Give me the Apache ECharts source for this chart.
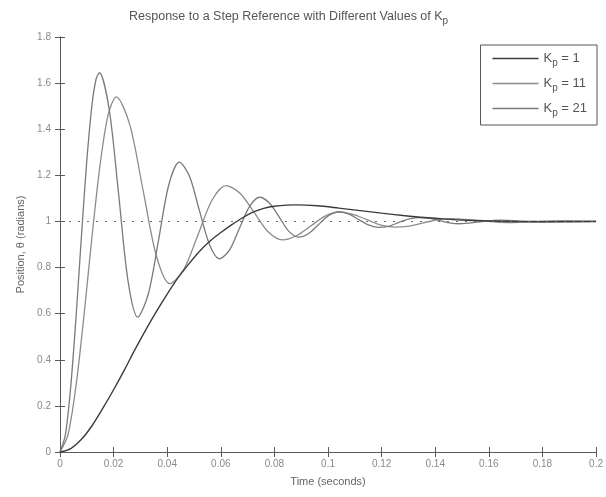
<!DOCTYPE html>
<html>
<head>
<meta charset="utf-8">
<script src="https://cdn.jsdelivr.net/npm/echarts@6/dist/echarts.min.js"></script>
<style>
  html, body { margin: 0; padding: 0; background: #fff; }
  #chart { width: 606px; height: 497px; }
</style>
</head>
<body>
<div id="chart"></div>
<script>
// Step responses of the position loop for three proportional gains.
const seriesNames = ['Kp = 1', 'Kp = 11', 'Kp = 21'];

// Kp = 1 : slow, lightly overshooting response
const tKp1 = [0, 0.004, 0.008, 0.012, 0.016, 0.02, 0.024, 0.028, 0.032, 0.036, 0.04, 0.044, 0.048, 0.052, 0.056, 0.06, 0.064, 0.068, 0.072, 0.076, 0.08, 0.088, 0.096, 0.104, 0.112, 0.12, 0.128, 0.136, 0.144, 0.152, 0.16, 0.17, 0.18, 0.2];
const yKp1 = [0, 0.015, 0.055, 0.115, 0.19, 0.27, 0.355, 0.445, 0.53, 0.61, 0.685, 0.755, 0.815, 0.87, 0.915, 0.952, 0.985, 1.015, 1.04, 1.057, 1.066, 1.072, 1.068, 1.058, 1.047, 1.036, 1.026, 1.017, 1.01, 1.005, 1.002, 1.0, 1.0, 1.0];

// Kp = 11
const tKp11 = [0, 0.003, 0.006, 0.009, 0.012, 0.015, 0.018, 0.021, 0.026, 0.031, 0.036, 0.041, 0.04625, 0.0515, 0.05675, 0.062, 0.06725, 0.0725, 0.07775, 0.083, 0.08825, 0.0935, 0.09875, 0.104, 0.10925, 0.1145, 0.11975, 0.125, 0.13025, 0.1355, 0.14075, 0.146, 0.1565, 0.167, 0.188, 0.2];
const yKp11 = [0, 0.076, 0.29, 0.598, 0.941, 1.25, 1.464, 1.54, 1.421, 1.135, 0.849, 0.73, 0.793, 0.9425, 1.093, 1.155, 1.121, 1.038, 0.954, 0.92, 0.938, 0.98, 1.022, 1.04, 1.031, 1.008, 0.984, 0.975, 0.98, 0.994, 1.007, 1.012, 1.003, 0.995, 1.002, 1.0];

// Kp = 21
const tKp21 = [0, 0.002, 0.004, 0.006, 0.008, 0.010, 0.012, 0.0135, 0.0147, 0.0183, 0.0219, 0.0254, 0.029, 0.0329, 0.0368, 0.0406, 0.0445, 0.0483, 0.052, 0.0558, 0.0595, 0.0633, 0.067, 0.0708, 0.0745, 0.0781, 0.0818, 0.0854, 0.089, 0.0928, 0.0965, 0.1003, 0.104, 0.1078, 0.1115, 0.1153, 0.119, 0.1228, 0.1265, 0.1303, 0.134, 0.1378, 0.1415, 0.1453, 0.149, 0.1565, 0.164, 0.179, 0.2];
const yKp21 = [0, 0.074, 0.283, 0.588, 0.937, 1.264, 1.512, 1.619, 1.645, 1.49, 1.115, 0.74, 0.585, 0.683, 0.921, 1.159, 1.257, 1.196, 1.048, 0.899, 0.838, 0.877, 0.972, 1.066, 1.105, 1.08, 1.019, 0.957, 0.932, 0.948, 0.987, 1.026, 1.042, 1.032, 1.008, 0.984, 0.974, 0.98, 0.996, 1.011, 1.017, 1.013, 1.004, 0.994, 0.99, 0.998, 1.006, 0.997, 1.0];

const referenceLevel = 1;

const pairs = (t, y) => t.map((v, i) => [v, y[i]]);

const font = '"Liberation Sans", Arial, Helvetica, sans-serif';
const axisColor = '#5a5a5a';
const labelColor = '#8a8a8a';
const lineColors = ['#3c3c3c', '#8c8c8c', '#7a7a7a'];

const chart = echarts.init(document.getElementById('chart'), null, { renderer: 'canvas' });

const axisCommon = {
  type: 'value',
  axisLine: { show: true, lineStyle: { color: axisColor, width: 1 } },
  axisTick: { show: true, inside: true, length: 5, lineStyle: { color: axisColor } },
  splitLine: { show: false }
};

chart.setOption({
  animation: false,
  backgroundColor: '#ffffff',
  title: {
    text: 'Response to a Step Reference with Different Values of K{sub|p}',
    left: 124,
    top: 2,
    textStyle: {
      fontFamily: font, fontSize: 12.5, fontWeight: 'normal', color: '#555',
      rich: { sub: { fontFamily: font, fontSize: 10, color: '#555', padding: [9, 0, 0, 0] } }
    }
  },
  legend: {
    orient: 'vertical',
    right: 9,
    top: 45,
    padding: [7, 10, 7, 12],
    icon: 'rect',
    itemWidth: 46,
    itemHeight: 1.5,
    itemGap: 9,
    borderColor: '#555',
    borderWidth: 1,
    backgroundColor: '#fff',
    formatter: n => n.replace('Kp', 'K{sub|p}'),
    textStyle: {
      fontFamily: font, fontSize: 13, color: '#555',
      rich: { sub: { fontFamily: font, fontSize: 10, color: '#555', padding: [9, 0, 0, 0] } }
    },
    data: seriesNames
  },
  grid: { left: 60, right: 3, top: 37, bottom: 45, containLabel: false },
  xAxis: [
    Object.assign({}, axisCommon, {
      min: 0, max: 0.2, interval: 0.02,
      name: 'Time (seconds)', nameLocation: 'middle', nameGap: 24,
      nameTextStyle: { fontFamily: font, fontSize: 11, color: '#666' },
      axisLabel: { fontFamily: font, fontSize: 10, color: labelColor, margin: 7 }
    }),
    Object.assign({}, axisCommon, {
      position: 'top', min: 0, max: 0.2, interval: 0.02,
      axisLabel: { show: false }
    })
  ],
  yAxis: [
    Object.assign({}, axisCommon, {
      min: 0, max: 1.8, interval: 0.2,
      name: 'Position, θ (radians)', nameLocation: 'middle', nameGap: 34,
      nameTextStyle: { fontFamily: font, fontSize: 11, color: '#666' },
      axisLabel: { fontFamily: font, fontSize: 10, color: labelColor, margin: 9 }
    }),
    Object.assign({}, axisCommon, {
      position: 'right', min: 0, max: 1.8, interval: 0.2,
      axisLabel: { show: false }
    })
  ],
  series: [
    {
      name: seriesNames[0], type: 'line', symbol: 'none', smooth: 0.3,
      data: pairs(tKp1, yKp1),
      lineStyle: { color: lineColors[0], width: 1.4 },
      itemStyle: { color: lineColors[0] },
      z: 4,
      markLine: {
        silent: true, symbol: 'none',
        label: { show: false },
        lineStyle: { color: '#6a6a6a', type: [2, 7], width: 1.2 },
        data: [{ yAxis: referenceLevel }]
      }
    },
    {
      name: seriesNames[1], type: 'line', symbol: 'none', smooth: 0.3,
      data: pairs(tKp11, yKp11),
      lineStyle: { color: lineColors[1], width: 1.3 },
      itemStyle: { color: lineColors[1] },
      z: 3
    },
    {
      name: seriesNames[2], type: 'line', symbol: 'none', smooth: 0.3,
      data: pairs(tKp21, yKp21),
      lineStyle: { color: lineColors[2], width: 1.3 },
      itemStyle: { color: lineColors[2] },
      z: 3
    }
  ]
});
</script>
</body>
</html>
